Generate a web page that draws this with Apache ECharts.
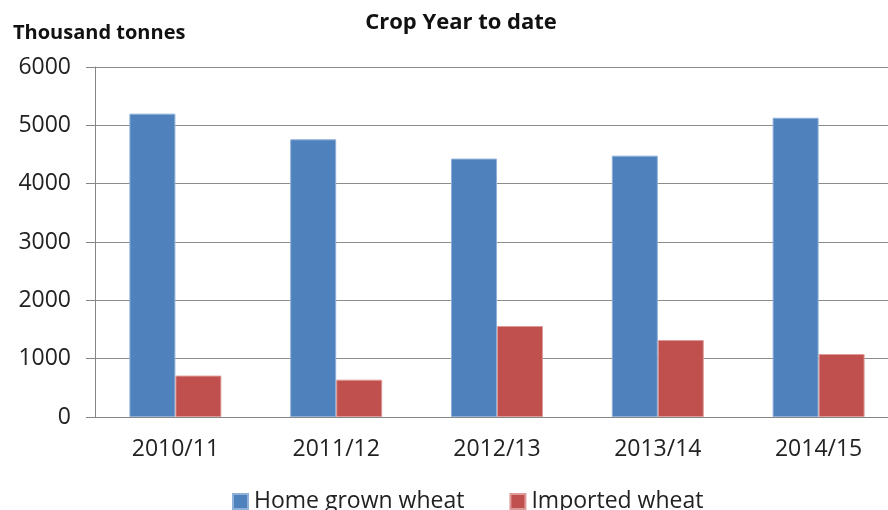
<!DOCTYPE html>
<html>
<head>
<meta charset="utf-8">
<script src="https://cdn.jsdelivr.net/npm/echarts@6/dist/echarts.min.js"></script>
<style>
  html, body { margin: 0; padding: 0; background: #fff; }
  #chart { width: 888px; height: 510px; }
</style>
</head>
<body>
<div id="chart"></div>
<script>
// data
const cropYears = ["2010/11", "2011/12", "2012/13", "2013/14", "2014/15"];
const homeGrown = [5200, 4760, 4430, 4480, 5130];
const imported = [710, 640, 1560, 1320, 1080];
const yTicks = { min: 0, max: 6000, step: 1000 };

const chart = echarts.init(document.getElementById("chart"));
const font = "'Open Sans', 'Noto Sans', sans-serif";

const option = {
  animation: false,
  textStyle: { fontFamily: font },
  title: [
    {
      text: "Crop Year to date",
      left: 456,
      textAlign: "center",
      top: 7,
      textStyle: { fontFamily: font, fontSize: 22, fontWeight: "bold", color: "#111" },
    },
    {
      text: "Thousand tonnes",
      left: 8,
      top: 18,
      textStyle: { fontFamily: font, fontSize: 20, fontWeight: "bold", color: "#111" },
    },
  ],
  legend: {
    data: ["Home grown wheat", "Imported wheat"],
    bottom: -8,
    left: 227,
    itemWidth: 15,
    itemHeight: 15,
    itemGap: 45,
    icon: "rect",
    textStyle: { fontFamily: font, fontSize: 23, color: "#222", padding: [0, 0, 0, 1] },
  },
  // plot runs past the right edge of the picture, as in the original crop
  grid: { left: 95, top: 67, width: 804, bottom: 93, outerBoundsMode: "none" },
  xAxis: {
    type: "category",
    data: cropYears,
    axisLine: { lineStyle: { color: "#868686", width: 1 } },
    axisTick: { length: 8, lineStyle: { color: "#868686" } },
    axisLabel: { fontFamily: font, fontSize: 23, color: "#222", margin: 21 },
  },
  yAxis: {
    type: "value",
    min: yTicks.min,
    max: yTicks.max,
    interval: yTicks.step,
    axisLine: { show: true, lineStyle: { color: "#868686" } },
    axisTick: { show: true, length: 9, lineStyle: { color: "#868686" } },
    splitLine: { lineStyle: { color: "#8c8c8c", width: 1 } },
    axisLabel: {
      fontFamily: font,
      fontSize: 23,
      color: "#222",
      margin: 24,
      formatter: (v) => String(v),
    },
  },
  series: [
    {
      name: "Home grown wheat",
      type: "bar",
      data: homeGrown,
      barWidth: "28.6%",
      barGap: "0%",
      itemStyle: { color: "#4F81BD", borderColor: "#8fb0d8", borderWidth: 1 },
    },
    {
      name: "Imported wheat",
      type: "bar",
      data: imported,
      barWidth: "28.6%",
      barGap: "0%",
      itemStyle: { color: "#C0504D", borderColor: "#dd9a98", borderWidth: 1 },
    },
  ],
};

chart.setOption(option);
</script>
</body>
</html>
